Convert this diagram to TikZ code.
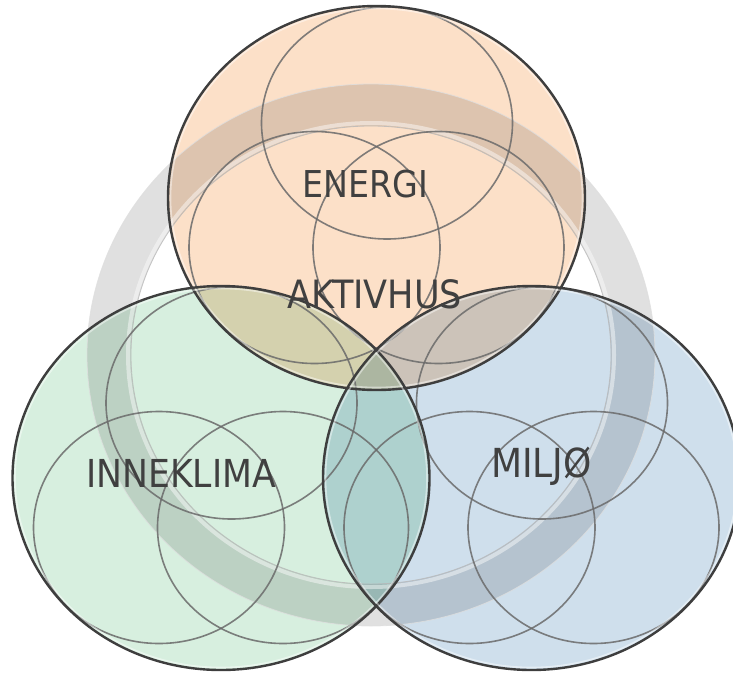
\documentclass[tikz,border=0pt]{standalone}
\usepackage{fontspec}
\usetikzlibrary{calc}
\newfontfamily\lblfont[FakeStretch=0.9]{DejaVu Sans}
\definecolor{peach}{HTML}{FCE0C8}
\definecolor{mint}{HTML}{D7EFDF}
\definecolor{sky}{HTML}{CFDFEC}
\definecolor{ringgray}{HTML}{E0E0E0}
\definecolor{rimgray}{HTML}{3E3E3E}
\definecolor{innergray}{HTML}{6A6A6A}
\definecolor{txtgray}{HTML}{404040}
\begin{document}
\begin{tikzpicture}[x=1pt,y=-1pt,
  bigfill/.style={fill=#1, blend mode=multiply},
  bigrim/.style={draw=rimgray, line width=2.4pt},
  bigshine/.style={draw=white, line width=1.6pt, opacity=.45},
  innerring/.style={draw=innergray, line width=1.6pt, opacity=.85},
  lbl/.style={font=\lblfont\fontsize{37}{40}\selectfont, text=txtgray, inner sep=0pt, anchor=base}]
\useasboundingbox (0,0) rectangle (733,672);

% centres of the three large circles and of the ring
\coordinate (cE) at (376.5,198);
\coordinate (cI) at (221,478);
\coordinate (cM) at (531.5,478);
\coordinate (cR) at (371,355);

% coloured discs, blended so overlaps darken
\fill[bigfill=peach] (cE) ellipse [x radius=208.5pt, y radius=192pt];
\fill[bigfill=mint]  (cI) ellipse [x radius=208.5pt, y radius=192pt];
\fill[bigfill=sky]   (cM) ellipse [x radius=208.5pt, y radius=192pt];

% grey ring behind the labels
\fill[ringgray, blend mode=multiply, even odd rule]
  (cR) ellipse [x radius=284pt, y radius=271pt]
  (cR) ellipse [x radius=240pt, y radius=229pt];
\draw[white, line width=4pt, opacity=.45] (cR) ellipse [x radius=243pt, y radius=232pt];
\draw[gray!55, line width=.8pt, opacity=.8] (cR) ellipse [x radius=240pt, y radius=229pt];
\draw[gray!25, line width=.8pt, opacity=.8] (cR) ellipse [x radius=284pt, y radius=271pt];

% three thin circles inside each large circle
\foreach \c in {cE,cI,cM}{
  \draw[innerring] ($(\c)+(10.5,-75)$) ellipse [x radius=125.5pt, y radius=116pt];
  \draw[innerring] ($(\c)+(-62,49.5)$) ellipse [x radius=125.5pt, y radius=116pt];
  \draw[innerring] ($(\c)+(62,49.5)$)  ellipse [x radius=125.5pt, y radius=116pt];
}

% rims of the large circles
\foreach \c in {cE,cI,cM}{
  \draw[bigshine] (\c) ellipse [x radius=206pt, y radius=189.5pt];
  \draw[bigrim] (\c) ellipse [x radius=208.5pt, y radius=192pt];
}

% labels
\node[lbl] (energi) at (365.5,197) {ENERGI};
\node[lbl, font=\lblfont\fontsize{39}{42}\selectfont] (aktivhus) at (375,308) {AKTIVHUS};
\node[lbl, font=\lblfont\fontsize{38.5}{42}\selectfont] (inneklima) at (181,487) {INNEKLIMA};
\node[lbl, font=\lblfont\fontsize{40}{44}\selectfont] (miljo) at (541.5,477) {MILJØ};
\end{tikzpicture}
\end{document}
